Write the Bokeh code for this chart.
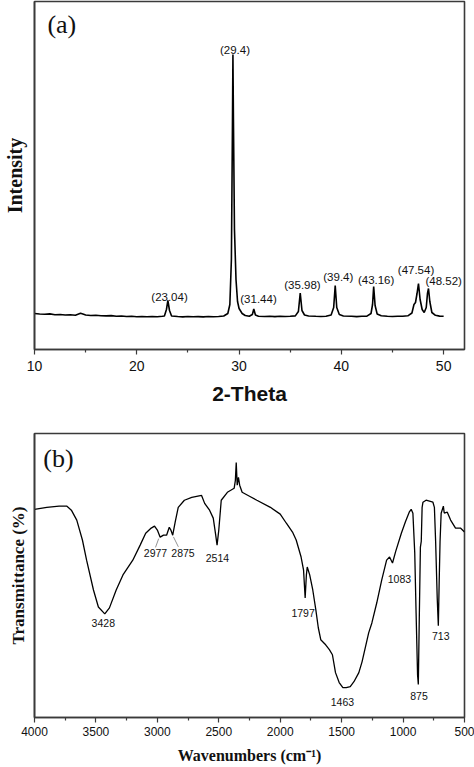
from bokeh.plotting import figure
from bokeh.layouts import column
from bokeh.models import Range1d, FixedTicker
from bokeh.core.properties import value
from bokeh.embed import file_html
from bokeh.resources import INLINE

# ---------------- (a) XRD data ----------------
xrd_two_theta = [10.0, 10.5, 11.0, 11.5, 12.0, 12.5, 13.0, 13.5, 14.0, 14.5, 14.8, 15.0, 15.5, 16.0,
                 16.5, 17.0, 17.5, 18.0, 18.5, 19.0, 19.5, 20.0, 20.5, 21.0, 21.5, 22.0, 22.5,
                 22.7, 22.9, 23.04, 23.2, 23.4, 24.0, 24.5, 25.0, 25.5, 26.0, 26.5, 27.0, 27.5,
                 28.0, 28.5, 28.9, 29.1, 29.25, 29.35, 29.4, 29.45, 29.55, 29.7, 29.85, 30.0,
                 30.3, 30.6, 31.0, 31.3, 31.44, 31.6, 31.9, 32.5, 33.0, 33.5, 34.0, 34.5, 35.0,
                 35.5, 35.8, 35.98, 36.15, 36.4, 36.8, 37.5, 38.0, 38.5, 39.0, 39.25, 39.4, 39.55,
                 39.8, 40.2, 41.0, 41.5, 42.0, 42.5, 42.9, 43.05, 43.16, 43.3, 43.5, 43.9, 44.5,
                 45.0, 45.5, 46.0, 46.5, 46.9, 47.1, 47.25, 47.4, 47.54, 47.7, 47.9, 48.1, 48.3,
                 48.42, 48.52, 48.65, 48.85, 49.2, 49.6, 50.0]
xrd_intensity = [360, 355, 352, 356, 348, 350, 345, 347, 343, 362, 352, 345, 340, 342,
                 338, 336, 339, 333, 335, 330, 332, 328, 330, 327, 330, 328, 332,
                 335, 400, 490, 390, 335, 330, 326, 330, 327, 329, 326, 330, 328,
                 330, 335, 360, 450, 900, 2200, 2950, 2300, 1200, 700, 480, 410,
                 360, 340, 333, 350, 405, 345, 333, 330, 332, 329, 332, 330, 332,
                 336, 380, 565, 390, 345, 335, 332, 330, 333, 345, 420, 640, 420,
                 350, 335, 332, 329, 332, 334, 360, 450, 630, 440, 355, 337, 332,
                 330, 332, 332, 337, 365, 450, 470, 560, 660, 500, 400, 370, 420,
                 560, 610, 480, 370, 342, 334, 332]
xrd_label_text = ["(29.4)", "(23.04)", "(31.44)", "(35.98)", "(39.4)", "(43.16)", "(47.54)", "(48.52)"]
xrd_label_x = [29.6, 23.2, 31.9, 36.2, 39.7, 43.4, 47.3, 50.0]
xrd_label_y = [3000, 530, 510, 650, 730, 700, 800, 690]
xrd_major_ticks = [10, 20, 30, 40, 50]
xrd_minor_ticks = [15, 25, 35, 45]

# ---------------- (b) FTIR data ----------------
ftir_wavenumber = [4000, 3900, 3800, 3736, 3700, 3656, 3610, 3576, 3520, 3480, 3428, 3390, 3335,
                   3280, 3200, 3140, 3095, 3050, 3023, 3000, 2977, 2950, 2925, 2903, 2890, 2875,
                   2855, 2830, 2780, 2720, 2640, 2615, 2575, 2545, 2525, 2514, 2500, 2480, 2430,
                   2375, 2365, 2358, 2350, 2340, 2330, 2310, 2250, 2190, 2080, 2000, 1950, 1900,
                   1870, 1830, 1810, 1797, 1787, 1780, 1760, 1735, 1710, 1690, 1670, 1630, 1600,
                   1575, 1550, 1520, 1490, 1463, 1430, 1400, 1360, 1334, 1280, 1254, 1214, 1174,
                   1134, 1110, 1086, 1060, 1014, 980, 950, 934, 920, 905, 894, 882, 876, 868, 859,
                   852, 845, 838, 813, 757, 745, 735, 722, 713, 706, 699, 690, 672, 665, 640, 613,
                   573, 533, 500]
ftir_transmittance = [73.3, 74.0, 74.4, 74.4, 73.0, 69.5, 62.5, 55.4, 44.9, 38.9, 36.5, 38.6, 44.9,
                      50.2, 55.4, 60.7, 64.9, 66.7, 67.4, 66.0, 63.5, 64.2, 64.2, 67.0, 66.0, 64.2,
                      68.8, 74.0, 76.5, 77.5, 78.2, 75.4, 73.0, 70.2, 64.2, 60.7, 66.0, 76.5, 79.3,
                      80.7, 83.5, 89.8, 81.8, 84.6, 81.8, 79.3, 77.9, 76.5, 74.0, 71.6, 68.4, 65.3,
                      62.5, 56.5, 51.9, 42.1, 50.2, 53.0, 50.2, 44.9, 37.9, 31.6, 27.4, 25.6, 23.9,
                      22.1, 15.8, 12.3, 10.5, 10.5, 10.9, 12.6, 15.8, 19.6, 29.8, 33.3, 40.4, 48.4,
                      55.4, 56.5, 54.4, 58.5, 64.9, 69.0, 72.3, 73.3, 71.9, 58.0, 36.8, 15.0, 11.6,
                      35.0, 60.0, 62.0, 74.0, 75.8, 76.5, 75.8, 74.0, 62.0, 42.0, 32.3, 48.0, 62.0,
                      71.9, 74.4, 72.0, 72.3, 69.5, 66.7, 66.7, 65.3]
ftir_label_text = ["3428", "2977", "2875", "2514", "1797", "1463", "1083", "875", "713"]
ftir_label_x = [3440, 3015, 2791, 2511, 1814, 1494, 1030, 870, 693]
ftir_label_y = [33.3, 57.9, 57.9, 56.1, 36.8, 5.6, 48.8, 7.4, 28.8]
ftir_leader_x0 = [2989, 2869]
ftir_leader_y0 = [63.0, 63.6]
ftir_leader_x1 = [3015, 2829]
ftir_leader_y1 = [59.9, 60.1]
ftir_major_ticks = [4000, 3500, 3000, 2500, 2000, 1500, 1000, 500]
ftir_minor_ticks = [3750, 3250, 2750, 2250, 1750, 1250, 750]

FRAME = "#3a3a3a"
SANS = "Liberation Sans"
SERIF = "Liberation Serif"


def style(p):
    p.outline_line_color = FRAME
    p.outline_line_width = 1.6
    p.xgrid.visible = False
    p.ygrid.visible = False
    p.background_fill_color = "white"
    p.border_fill_color = "white"
    for ax in (p.xaxis[0], p.yaxis[0]):
        ax.axis_line_color = FRAME
        ax.axis_line_width = 1.6
        ax.major_tick_line_color = FRAME
        ax.minor_tick_line_color = FRAME
        ax.major_tick_line_width = 1.2
        ax.minor_tick_line_width = 1.2
        ax.major_tick_in = 0
        ax.minor_tick_in = 0
    ya = p.yaxis[0]
    ya.ticker = FixedTicker(ticks=[])
    ya.major_tick_out = 0
    ya.minor_tick_out = 0
    ya.major_label_standoff = 0


# ---------------- figure (a) ----------------
pa = figure(width=474, height=410, output_backend="svg", toolbar_location=None,
            x_range=Range1d(10, 52.04), y_range=Range1d(0, 3480),
            min_border_top=1, min_border_left=33, min_border_right=8, min_border_bottom=61)
style(pa)
pa.line(xrd_two_theta, xrd_intensity, line_color="black", line_width=1.6)
pa.text(x=xrd_label_x, y=xrd_label_y, text=xrd_label_text, text_font=value(SANS),
        text_font_size=value("11.5px"), text_align="center", text_baseline="middle", text_color="#111")
pa.text(x=[11.26], y=[3250], text=["(a)"], text_font=value(SERIF), text_font_size=value("26px"),
        text_align="left", text_baseline="middle", text_color="#111")
xa = pa.xaxis[0]
xa.ticker = FixedTicker(ticks=xrd_major_ticks, minor_ticks=xrd_minor_ticks)
xa.major_tick_out = 5
xa.minor_tick_out = 3
xa.major_label_standoff = 6
xa.major_label_text_font = SANS
xa.major_label_text_font_size = "14px"
xa.major_label_text_color = "#111"
xa.axis_label = "2-Theta"
xa.axis_label_text_font = SANS
xa.axis_label_text_font_style = "bold"
xa.axis_label_text_font_size = "21px"
xa.axis_label_text_color = "#111"
xa.axis_label_standoff = 8
ya = pa.yaxis[0]
ya.axis_label = "Intensity"
ya.axis_label_text_font = SERIF
ya.axis_label_text_font_style = "bold"
ya.axis_label_text_font_size = "20px"
ya.axis_label_text_color = "#111"
ya.axis_label_standoff = 9

# ---------------- figure (b) ----------------
pb = figure(width=474, height=356, output_backend="svg", toolbar_location=None,
            x_range=Range1d(4000, 500), y_range=Range1d(0, 100),
            min_border_top=23, min_border_left=27, min_border_right=10, min_border_bottom=48)
style(pb)
pb.line(ftir_wavenumber, ftir_transmittance, line_color="black", line_width=1.3)
pb.segment(x0=ftir_leader_x0, y0=ftir_leader_y0, x1=ftir_leader_x1, y1=ftir_leader_y1,
           line_color="#777", line_width=0.8)
pb.text(x=ftir_label_x, y=ftir_label_y, text=ftir_label_text, text_font=value(SANS),
        text_font_size=value("10.5px"), text_align="center", text_baseline="middle", text_color="#111")
pb.text(x=[3928], y=[91.2], text=["(b)"], text_font=value(SERIF), text_font_size=value("26px"),
        text_align="left", text_baseline="middle", text_color="#111")
xb = pb.xaxis[0]
xb.ticker = FixedTicker(ticks=ftir_major_ticks, minor_ticks=ftir_minor_ticks)
xb.major_tick_out = 5
xb.minor_tick_out = 3
xb.major_label_standoff = 4
xb.major_label_text_font = SANS
xb.major_label_text_font_size = "12px"
xb.major_label_text_color = "#111"
xb.axis_label = "Wavenumbers (cm⁻¹)"
xb.axis_label_text_font = SERIF
xb.axis_label_text_font_style = "bold"
xb.axis_label_text_font_size = "16px"
xb.axis_label_text_color = "#111"
xb.axis_label_standoff = 8
yb = pb.yaxis[0]
yb.axis_label = "Transmittance (%)"
yb.axis_label_text_font = SERIF
yb.axis_label_text_font_style = "bold"
yb.axis_label_text_font_size = "17px"
yb.axis_label_text_color = "#111"
yb.axis_label_standoff = 7

layout = column(pa, pb)

open("out.html", "w").write(file_html(layout, INLINE))
